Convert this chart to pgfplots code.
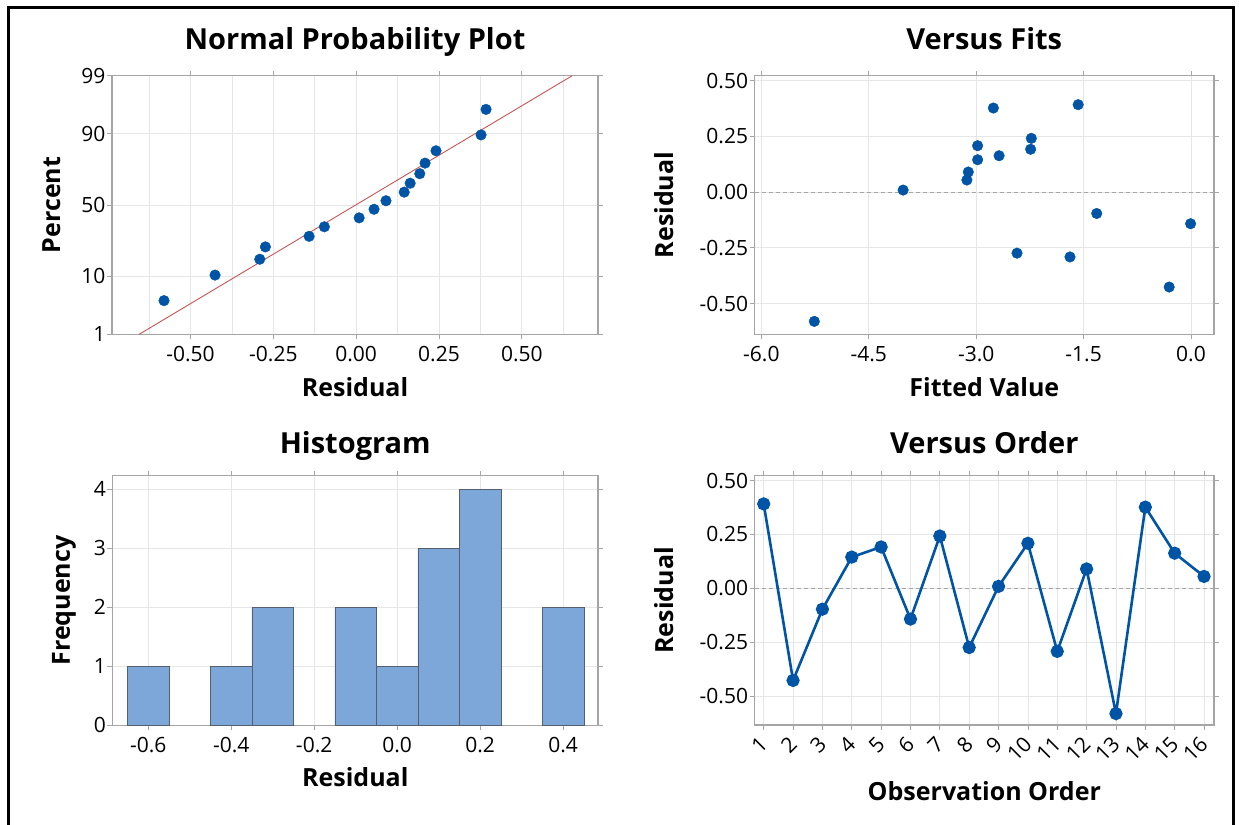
\documentclass[border=0pt]{standalone}
\usepackage{pgfplots}
\pgfplotsset{compat=1.18}
\usepackage{fontspec}
\setmainfont{Open Sans}
\definecolor{mblue}{RGB}{0,84,166}
\definecolor{hfill}{RGB}{125,167,217}
\definecolor{hedge}{RGB}{85,95,110}
\definecolor{gridc}{RGB}{230,230,230}
\definecolor{framec}{RGB}{165,165,165}
\definecolor{fitred}{RGB}{200,85,85}
\newcommand{\ttl}{\fontsize{29bp}{34bp}\selectfont\bfseries}
\newcommand{\lbl}{\fontsize{25bp}{30bp}\selectfont\bfseries}
\newcommand{\tck}{\fontsize{21bp}{25bp}\selectfont}
\pgfplotsset{
  every axis title shift=0pt,
  mystyle/.style={
    scale only axis,
    axis line style={framec, line width=1.2bp},
    tick align=outside,
    major tick length=5bp,
    minor tick length=0pt,
    tick style={framec, line width=0.8bp},
    major grid style={gridc, line width=0.8bp},
    minor grid style={gridc, line width=0.8bp},
    tick label style={font=\tck},
    yticklabel style={xshift=2bp},
    title style={font=\ttl, at={(axis description cs:0.5,1)}, anchor=base},
    xlabel style={font=\lbl, at={(axis description cs:0.5,0)}, anchor=base},
    ylabel style={font=\lbl, anchor=center},
    xticklabel style={anchor=base, yshift=-22bp},
    clip=true,
  }
}
\begin{document}
\begin{tikzpicture}
\useasboundingbox (0,0) rectangle (1239bp,-825bp);
\draw[line width=3bp] (8bp,-826bp) -- (8bp,-7.5bp) -- (1233bp,-7.5bp) -- (1233bp,-826bp);

% Normal probability plot
\begin{axis}[mystyle,
  at={(112bp,-334.3bp)}, anchor=south west,
  width=486bp, height=258.6bp,
  xmin=-0.737, xmax=0.730, ymin=-2.3263, ymax=2.3263,
  xtick={-0.5,-0.25,0,0.25,0.5},
  xticklabels={-0.50,-0.25,0.00,0.25,0.50},
  minor xtick={-0.625,-0.375,-0.125,0.125,0.375,0.625},
  ytick={-2.3263,-1.2816,0,1.2816,2.3263},
  yticklabels={1,10,50,90,99},
  xmajorgrids, ymajorgrids, xminorgrids,
  title={Normal Probability Plot}, title style={yshift=25.7bp},
  xlabel={Residual}, xlabel style={yshift=-62bp},
  ylabel={Percent}, ylabel style={at={(axis description cs:-0.125,0.5)}},
]
\addplot[fitred, line width=0.9bp] coordinates {(-0.655,-2.3263) (0.652,2.3263)};
\addplot[only marks, mark=*, mark size=5.3bp, mblue, mark options={draw=mblue, fill=mblue}] coordinates {
(-0.580,-1.7203) (-0.426,-1.2610) (-0.291,-0.9756) (-0.274,-0.7534)
(-0.142,-0.5634) (-0.096,-0.3919) (0.009,-0.2313) (0.054,-0.0765)
(0.090,0.0765) (0.145,0.2313) (0.163,0.3919) (0.192,0.5634)
(0.208,0.7534) (0.241,0.9756) (0.377,1.2610) (0.392,1.7203)};
\end{axis}

% Versus fits
\begin{axis}[mystyle,
  at={(754.6bp,-334.3bp)}, anchor=south west,
  width=459.4bp, height=258.6bp,
  xmin=-6.094, xmax=0.321, ymin=-0.638, ymax=0.522,
  xtick={-6,-4.5,-3,-1.5,0},
  xticklabels={-6.0,-4.5,-3.0,-1.5,0.0},
  ytick={-0.5,-0.25,0,0.25,0.5},
  yticklabels={-0.50,-0.25,0.00,0.25,0.50},
  xmajorgrids, ymajorgrids,
  title={Versus Fits}, title style={yshift=25.7bp},
  xlabel={Fitted Value}, xlabel style={yshift=-62bp},
  ylabel={Residual}, ylabel style={at={(axis description cs:-0.198,0.5)}},
]
\addplot[gray!70, line width=0.9bp, dash pattern=on 4bp off 3bp] coordinates {(-6.094,0) (0.321,0)};
\addplot[only marks, mark=*, mark size=5.3bp, mblue, mark options={draw=mblue, fill=mblue}] coordinates {
(-1.576,0.392) (-0.305,-0.426) (-1.317,-0.096) (-2.98,0.145)
(-2.24,0.192) (-0.006,-0.142) (-2.23,0.241) (-2.43,-0.274)
(-4.02,0.009) (-2.98,0.208) (-1.69,-0.291) (-3.11,0.090)
(-5.26,-0.580) (-2.76,0.377) (-2.68,0.163) (-3.13,0.054)};
\end{axis}

% Histogram
\begin{axis}[mystyle,
  at={(112.5bp,-725.3bp)}, anchor=south west,
  width=485.5bp, height=249.6bp,
  xmin=-0.686, xmax=0.484, ymin=0, ymax=4.23,
  xtick={-0.6,-0.4,-0.2,0,0.2,0.4},
  xticklabels={-0.6,-0.4,-0.2,0.0,0.2,0.4},
  ytick={0,1,2,3,4},
  yticklabels={0,1,2,3,4},
  xmajorgrids, ymajorgrids,
  title={Histogram}, title style={yshift=22.7bp},
  xlabel={Residual}, xlabel style={yshift=-61.4bp},
  ylabel={Frequency}, ylabel style={at={(axis description cs:-0.100,0.5)}},
]
\addplot[ybar, bar width=0.1, fill=hfill, draw=hedge, line width=0.8bp] coordinates {
(-0.6,1) (-0.4,1) (-0.3,2) (-0.1,2) (0.0,1) (0.1,3) (0.2,4) (0.4,2)};
\end{axis}

% Versus order
\begin{axis}[mystyle,
  at={(754.6bp,-725bp)}, anchor=south west,
  width=459.4bp, height=249.3bp,
  xmin=0.69, xmax=16.34, ymin=-0.635, ymax=0.523,
  xtick={1,2,3,4,5,6,7,8,9,10,11,12,13,14,15,16},
  xticklabels={1,2,3,4,5,6,7,8,9,10,11,12,13,14,15,16},
  xticklabel style={inner sep=0pt, yshift=11.7bp, rotate=45, anchor=east},
  ytick={-0.5,-0.25,0,0.25,0.5},
  yticklabels={-0.50,-0.25,0.00,0.25,0.50},
  xmajorgrids, ymajorgrids,
  title={Versus Order}, title style={yshift=22.7bp},
  xlabel={Observation Order}, xlabel style={yshift=-75bp},
  ylabel={Residual}, ylabel style={at={(axis description cs:-0.198,0.5)}},
]
\addplot[gray!70, line width=0.9bp, dash pattern=on 4bp off 3bp] coordinates {(0.69,0) (16.34,0)};
\addplot[mblue, line width=2.6bp, mark=*, mark size=5.3bp, mark options={draw=mblue, fill=mblue}] coordinates {
(1,0.392) (2,-0.428) (3,-0.097) (4,0.145) (5,0.192) (6,-0.143) (7,0.243) (8,-0.275)
(9,0.009) (10,0.209) (11,-0.293) (12,0.090) (13,-0.582) (14,0.377) (15,0.163) (16,0.055)};
\end{axis}
\end{tikzpicture}
\end{document}
